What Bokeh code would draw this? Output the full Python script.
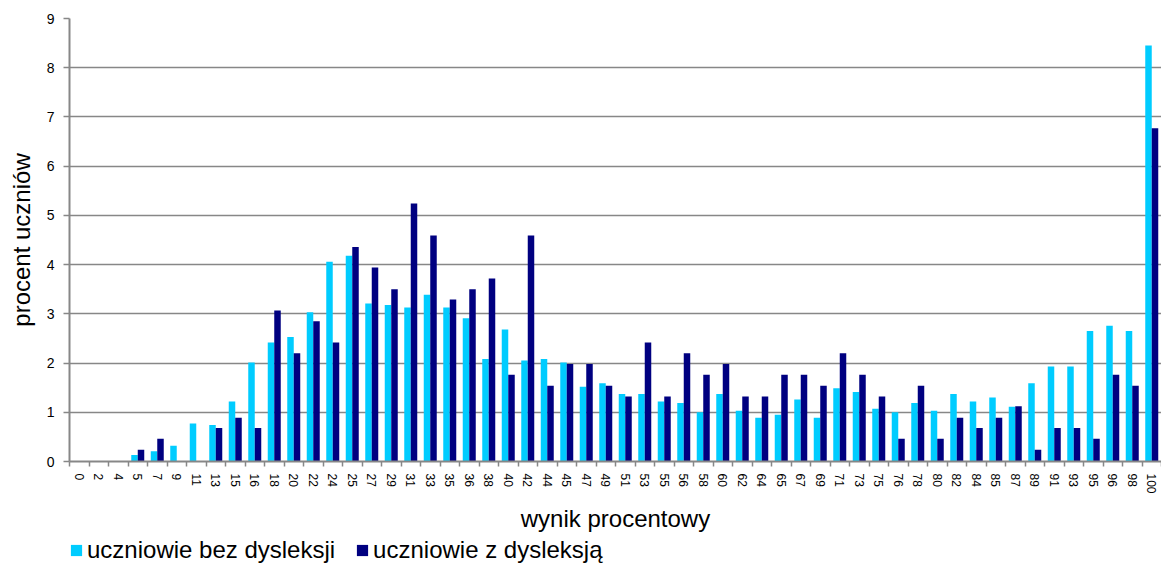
import numpy as np
from bokeh.plotting import figure
from bokeh.layouts import column
from bokeh.models import (Range1d, FixedTicker, SingleIntervalTicker, Legend,
                          LegendItem, ColumnDataSource)
from bokeh.transform import dodge
from bokeh.embed import file_html
from bokeh.resources import INLINE

categories = ["0", "2", "4", "5", "7", "9", "11", "13", "15", "16", "18", "20",
              "22", "24", "25", "27", "29", "31", "33", "35", "36", "38", "40",
              "42", "44", "45", "47", "49", "51", "53", "55", "56", "58", "60",
              "62", "64", "65", "67", "69", "71", "73", "75", "76", "78", "80",
              "82", "84", "85", "87", "89", "91", "93", "95", "96", "98", "100"]

bez_dysleksji = [0, 0, 0, 0.13, 0.21, 0.32, 0.77, 0.74, 1.22, 2.01, 2.42, 2.53,
                 3.03, 4.06, 4.18, 3.21, 3.18, 3.13, 3.39, 3.13, 2.91, 2.08, 2.68,
                 2.05, 2.08, 2.01, 1.52, 1.59, 1.37, 1.37, 1.22, 1.19, 1.00, 1.37,
                 1.03, 0.89, 0.95, 1.26, 0.89, 1.49, 1.41, 1.07, 1.00, 1.19, 1.03,
                 1.37, 1.22, 1.30, 1.11, 1.59, 1.93, 1.93, 2.65, 2.76, 2.65, 8.45]

z_dysleksja = [0, 0, 0, 0.24, 0.46, 0, 0, 0.68, 0.89, 0.68, 3.07, 2.20,
               2.85, 2.42, 4.36, 3.94, 3.50, 5.24, 4.59, 3.29, 3.50, 3.72, 1.76,
               4.59, 1.54, 1.98, 1.98, 1.54, 1.32, 2.42, 1.32, 2.20, 1.76, 1.98,
               1.32, 1.32, 1.76, 1.76, 1.54, 2.20, 1.76, 1.32, 0.46, 1.54, 0.46,
               0.89, 0.68, 0.89, 1.12, 0.24, 0.68, 0.68, 0.46, 1.76, 1.54, 6.77]

series_labels = ["uczniowie bez dysleksji", "uczniowie z dysleksją"]
y_title = "procent uczniów"
x_title = "wynik procentowy"

LIGHT = "#00CCFF"
DARK = "#000080"
GRID = "#878787"
FONT = "Liberation Sans"

n = len(categories)
centers = [i + 0.5 for i in range(n)]
src = ColumnDataSource(dict(x=centers, bez=bez_dysleksji, z=z_dysleksja))

W = 1161
p = figure(width=W, height=534, output_backend="svg", toolbar_location=None,
           x_range=Range1d(0, n), y_range=Range1d(0, 9),
           min_border_left=69, min_border_right=0, min_border_top=18,
           min_border_bottom=72)
p.outline_line_color = None
p.background_fill_color = "white"
p.border_fill_color = "white"

r1 = p.vbar(x=dodge("x", -1/6, range=p.x_range), top="bez", width=1/3,
            source=src, fill_color=LIGHT, line_color=None)
r2 = p.vbar(x=dodge("x", 1/6, range=p.x_range), top="z", width=1/3,
            source=src, fill_color=DARK, line_color=None)

# grid
p.xgrid.grid_line_color = None
p.ygrid.grid_line_color = GRID
p.ygrid.grid_line_width = 1.5

# y axis
p.yaxis.ticker = SingleIntervalTicker(interval=1, num_minor_ticks=0)
p.yaxis.axis_line_color = GRID
p.yaxis.axis_line_width = 2
p.yaxis.major_tick_line_color = GRID
p.yaxis.major_tick_line_width = 1.5
p.yaxis.major_tick_out = 6
p.yaxis.major_tick_in = 0
p.yaxis.minor_tick_line_color = None
p.yaxis.major_label_text_font = FONT
p.yaxis.major_label_text_font_size = "14px"
p.yaxis.major_label_text_color = "black"
p.yaxis.major_label_standoff = 9
p.yaxis.axis_label = y_title
p.yaxis.axis_label_text_font = FONT
p.yaxis.axis_label_text_font_size = "24px"
p.yaxis.axis_label_text_font_style = "normal"
p.yaxis.axis_label_text_color = "black"
p.yaxis.axis_label_standoff = 9

# x axis
p.xaxis.ticker = FixedTicker(ticks=centers, minor_ticks=list(range(n + 1)))
p.xaxis.major_label_overrides = {c: lab for c, lab in zip(centers, categories)}
p.xaxis.major_label_orientation = "vertical"
p.xaxis.axis_line_color = GRID
p.xaxis.axis_line_width = 2
p.xaxis.major_tick_out = 0
p.xaxis.major_tick_in = 0
p.xaxis.minor_tick_out = 5
p.xaxis.minor_tick_in = 0
p.xaxis.minor_tick_line_color = GRID
p.xaxis.minor_tick_line_width = 1.5
p.xaxis.major_label_text_font = FONT
p.xaxis.major_label_text_font_size = "12px"
p.xaxis.major_label_text_color = "black"
p.xaxis.major_label_standoff = 7
p.xaxis.axis_label = x_title
p.xaxis.axis_label_text_font = FONT
p.xaxis.axis_label_text_font_size = "24px"
p.xaxis.axis_label_text_font_style = "normal"
p.xaxis.axis_label_text_color = "black"
p.xaxis.axis_label_standoff = 8

# legend strip below the chart (its frame is aligned with the chart's frame)
p2 = figure(width=W, height=30, output_backend="svg", toolbar_location=None,
            x_range=p.x_range, y_range=Range1d(100, 101),
            x_axis_type=None, y_axis_type=None, min_border=0)
p2.outline_line_color = None
p2.background_fill_color = "white"
p2.border_fill_color = "white"
lr1 = p2.vbar(x=dodge("x", -1/6, range=p2.x_range), top="bez", width=1/3,
              source=src, fill_color=LIGHT, line_color=None)
lr2 = p2.vbar(x=dodge("x", 1/6, range=p2.x_range), top="z", width=1/3,
              source=src, fill_color=DARK, line_color=None)

legend = Legend(items=[LegendItem(label=series_labels[0], renderers=[lr1]),
                       LegendItem(label=series_labels[1], renderers=[lr2])],
                orientation="horizontal", location=(0, 0),
                label_text_font=FONT, label_text_font_size="24px",
                label_text_color="black",
                glyph_width=14, glyph_height=14, label_standoff=4, spacing=20,
                padding=0, margin=0, border_line_color=None,
                background_fill_alpha=0)
p2.add_layout(legend, "center")

layout = column(p, p2, spacing=0)
open("out.html", "w").write(file_html(layout, INLINE))
